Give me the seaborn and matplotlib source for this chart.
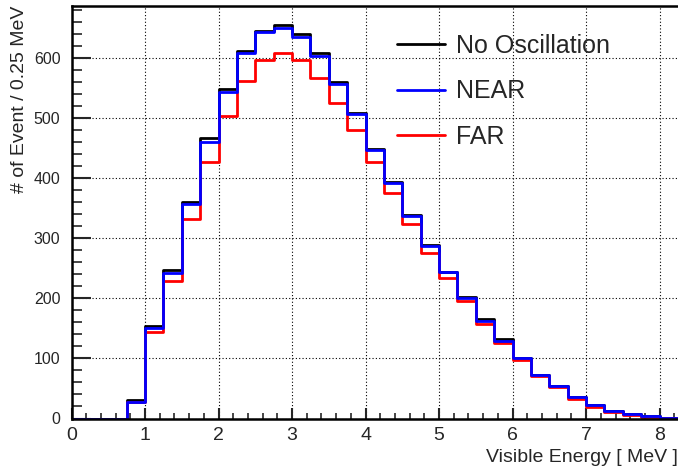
import numpy as np
import pandas as pd
import matplotlib
matplotlib.use("Agg")
import matplotlib.pyplot as plt
import seaborn as sns
from matplotlib.ticker import MultipleLocator
from matplotlib.lines import Line2D

bin_width = 0.25
bin_edges = np.arange(0, 8.25 + 1e-9, bin_width)
bin_centers = bin_edges[:-1] + bin_width / 2

no_osc = [0, 0, 0, 30, 154, 247, 361, 467, 548, 612, 645, 655, 641, 608, 560, 508,
          449, 394, 339, 289, 244, 202, 165, 132, 101, 73, 54, 36, 22, 13, 8, 4, 1]
near = [0, 0, 0, 28, 150, 242, 357, 461, 544, 609, 643, 650, 636, 604, 557, 507,
        448, 393, 338, 288, 244, 201, 163, 129, 100, 72, 54, 35, 22, 12, 8, 4, 1]
far = [0, 0, 0, 27, 144, 229, 332, 427, 504, 562, 597, 608, 597, 567, 526, 480,
       427, 376, 324, 276, 234, 196, 158, 125, 97, 71, 52, 33, 19, 11, 6, 3, 1]

labels = ["No Oscillation", "NEAR", "FAR"]
colors = {"No Oscillation": "black", "NEAR": "#0000ff", "FAR": "#ff0000"}

df = pd.concat([
    pd.DataFrame({"E": bin_centers, "w": no_osc, "series": "No Oscillation"}),
    pd.DataFrame({"E": bin_centers, "w": near, "series": "NEAR"}),
    pd.DataFrame({"E": bin_centers, "w": far, "series": "FAR"}),
])

sns.set_theme(style="white")
plt.rcParams["font.family"] = ["Liberation Sans", "DejaVu Sans"]

fig = plt.figure(figsize=(6.78, 4.68), dpi=100)
ax = fig.add_axes([71.5 / 678, 1 - 418.5 / 468, (678 - 71.5) / 678, (418.5 - 6) / 468])

for name in ["No Oscillation", "FAR", "NEAR"]:
    sub = df[df["series"] == name]
    sns.histplot(data=sub, x="E", weights="w", binwidth=bin_width, binrange=(0, 8.25),
                 element="step", fill=False, color=colors[name], linewidth=2.0, ax=ax)

ax.set_xlim(0, 8.25)
ax.set_ylim(0, 687)
ax.xaxis.set_major_locator(MultipleLocator(1))
ax.xaxis.set_minor_locator(MultipleLocator(0.2))
ax.yaxis.set_major_locator(MultipleLocator(100))
ax.yaxis.set_minor_locator(MultipleLocator(20))
ax.grid(True, which="major", color="black", linestyle=(0, (1, 2)), linewidth=0.8)
ax.set_axisbelow(True)

ax.tick_params(axis="x", which="major", direction="in", length=8, width=1.5,
               labelsize=14, pad=6, bottom=True, top=False)
ax.tick_params(axis="x", which="minor", direction="in", length=4, width=1.2,
               bottom=True, top=False)
ax.tick_params(axis="y", which="major", direction="in", length=14, width=1.5,
               labelsize=11.5, pad=8, left=True, right=False)
ax.tick_params(axis="y", which="minor", direction="in", length=7, width=1.2,
               left=True, right=False)

for s in ["left", "bottom", "top"]:
    ax.spines[s].set_color("black")
    ax.spines[s].set_linewidth(1.8)
ax.spines["right"].set_visible(False)

ax.set_xlabel("Visible Energy [ MeV ]", fontsize=14, loc="right", labelpad=3.5)
ax.set_ylabel("# of Event / 0.25 MeV", fontsize=14, loc="top", labelpad=4)

handles = [Line2D([], [], color=colors[n], linewidth=2.0) for n in labels]
ax.legend(handles, labels, loc="upper left", bbox_to_anchor=(397 / 678, 1 - 34 / 468),
          bbox_transform=fig.transFigure, frameon=False, fontsize=18,
          handlelength=1.9, handletextpad=0.45, labelspacing=0.85,
          borderpad=0, borderaxespad=0)

fig.savefig("out.png", dpi=100)
